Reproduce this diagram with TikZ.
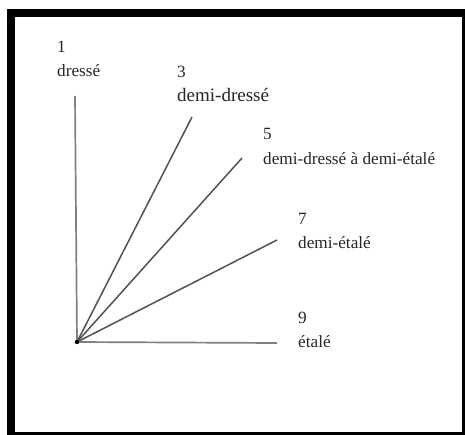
\documentclass[tikz,border=0pt]{standalone}
\usepackage{fontspec}
\setmainfont{Liberation Serif}
\newfontfamily\labelfont{Liberation Serif}
\usepackage{tikz}
\usetikzlibrary{positioning}

\begin{document}
\begin{tikzpicture}[
    x=1pt, y=-1pt,
    %% ── Text styles ──
    label/.style={anchor=base west, inner sep=0pt, text=black!85,
        font=\labelfont\fontsize{17.2}{20}\selectfont},
    biglabel/.style={label, font=\labelfont\fontsize{19}{22}\selectfont},
    %% ── Line styles ──
    axis/.style={line width=1.7pt, color=black!50},
    ray/.style={line width=1.5pt, color=black!68},
    frame/.style={line width=8pt, color=black},
]
\clip (0,0) rectangle (465,435);
\useasboundingbox (0,0) rectangle (465,435);

% ── Frame ──
\draw[frame] (11,13.5) rectangle (466,435.5);

% ── Origin and line ends ──
\coordinate (origin) at (77,342);
\coordinate (end1) at (75,96);
\coordinate (end3) at (192,117);
\coordinate (end5) at (242,158);
\coordinate (end7) at (277,240);
\coordinate (end9) at (277,343);

% ── Lines ──
\draw[axis] (origin) -- (end1);
\draw[ray]  (origin) -- (end3);
\draw[ray]  (origin) -- (end5);
\draw[ray]  (origin) -- (end7);
\draw[axis] (origin) -- (end9);
\fill[black] (origin) circle (2.2pt);

% ── Labels ──
\node[label]    (num1) at (57,53)   {1};
\node[label]    (lab1) at (57,77)   {dressé};
\node[label]    (num3) at (177,78)  {3};
\node[biglabel] (lab3) at (177,102) {demi-dressé};
\node[label]    (num5) at (263,140) {5};
\node[label]    (lab5) at (263,165) {demi-dressé à demi-étalé};
\node[label]    (num7) at (298,225) {7};
\node[label]    (lab7) at (298,249) {demi-étalé};
\node[label]    (num9) at (298,323) {9};
\node[label]    (lab9) at (298,347) {étalé};

\end{tikzpicture}
\end{document}
